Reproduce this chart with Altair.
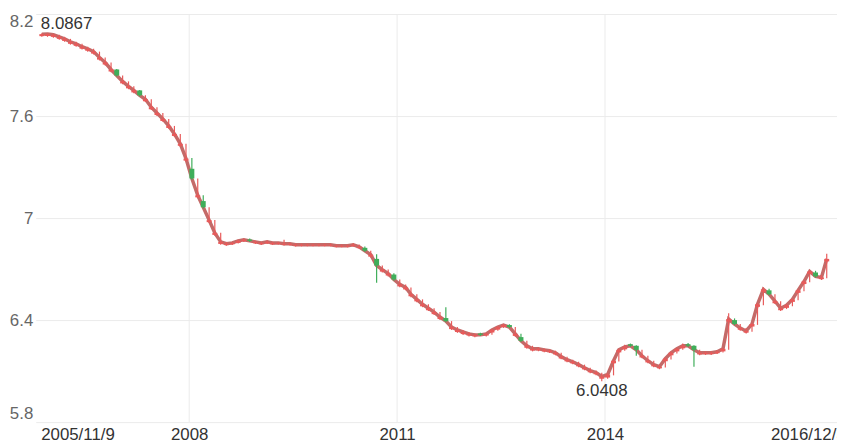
import altair as alt
import pandas as pd

# Monthly candles (USD/CNY, 2005/11 - 2017)
open_ = [8.070, 8.071, 8.066, 8.054, 8.042, 8.025, 8.013, 7.996, 7.984, 7.967,
         7.932, 7.903, 7.862, 7.874, 7.792, 7.763, 7.739, 7.751, 7.687, 7.640,
         7.606, 7.571, 7.530, 7.483, 7.425, 7.338, 7.290, 7.122, 7.100, 6.976,
         6.901, 6.848, 6.841, 6.846, 6.854, 6.864, 6.874, 6.852, 6.846, 6.852,
         6.846, 6.848, 6.843, 6.843, 6.837, 6.838, 6.838, 6.838, 6.838, 6.838,
         6.838, 6.832, 6.832, 6.832, 6.836, 6.823, 6.825, 6.773, 6.760, 6.685,
         6.662, 6.668, 6.598, 6.580, 6.540, 6.510, 6.481, 6.458, 6.435, 6.406,
         6.412, 6.347, 6.330, 6.318, 6.309, 6.304, 6.321, 6.309, 6.327, 6.344,
         6.359, 6.371, 6.307, 6.300, 6.237, 6.221, 6.222, 6.216, 6.211, 6.198,
         6.174, 6.157, 6.145, 6.128, 6.110, 6.093, 6.081, 6.055, 6.062, 6.146,
         6.210, 6.228, 6.258, 6.249, 6.180, 6.151, 6.128, 6.116, 6.158, 6.193,
         6.216, 6.234, 6.258, 6.249, 6.198, 6.200, 6.200, 6.205, 6.216, 6.391,
         6.400, 6.343, 6.326, 6.362, 6.478, 6.566, 6.575, 6.499, 6.458, 6.472,
         6.507, 6.560, 6.612, 6.671, 6.680, 6.641, 6.745]
close_ = [8.082, 8.083, 8.078, 8.066, 8.054, 8.037, 8.025, 8.008, 7.996, 7.979,
          7.944, 7.915, 7.874, 7.839, 7.804, 7.775, 7.751, 7.722, 7.699, 7.652,
          7.618, 7.583, 7.542, 7.495, 7.437, 7.350, 7.233, 7.134, 7.064, 6.988,
          6.913, 6.860, 6.849, 6.854, 6.866, 6.872, 6.866, 6.860, 6.854, 6.860,
          6.854, 6.854, 6.849, 6.849, 6.843, 6.843, 6.843, 6.843, 6.843, 6.843,
          6.843, 6.837, 6.837, 6.837, 6.843, 6.831, 6.808, 6.785, 6.721, 6.697,
          6.674, 6.639, 6.610, 6.592, 6.552, 6.522, 6.493, 6.470, 6.447, 6.418,
          6.394, 6.359, 6.342, 6.330, 6.319, 6.313, 6.313, 6.319, 6.342, 6.359,
          6.371, 6.359, 6.319, 6.278, 6.249, 6.231, 6.231, 6.225, 6.220, 6.208,
          6.185, 6.167, 6.155, 6.138, 6.120, 6.103, 6.091, 6.068, 6.080, 6.161,
          6.225, 6.243, 6.249, 6.225, 6.190, 6.161, 6.138, 6.126, 6.173, 6.208,
          6.231, 6.249, 6.249, 6.225, 6.208, 6.208, 6.208, 6.214, 6.231, 6.406,
          6.377, 6.353, 6.336, 6.377, 6.493, 6.581, 6.552, 6.511, 6.470, 6.487,
          6.522, 6.575, 6.627, 6.686, 6.657, 6.651, 6.760]
high_ = [8.0867, 8.086, 8.083, 8.078, 8.066, 8.054, 8.037, 8.025, 8.008, 7.996,
         7.979, 7.944, 7.915, 7.877, 7.839, 7.804, 7.775, 7.754, 7.722, 7.699,
         7.652, 7.618, 7.583, 7.542, 7.495, 7.437, 7.353, 7.233, 7.134, 7.064,
         6.988, 6.913, 6.860, 6.860, 6.872, 6.880, 6.880, 6.866, 6.860, 6.866,
         6.860, 6.860, 6.872, 6.854, 6.849, 6.848, 6.848, 6.848, 6.848, 6.848,
         6.848, 6.843, 6.843, 6.843, 6.852, 6.845, 6.833, 6.808, 6.787, 6.721,
         6.697, 6.676, 6.639, 6.610, 6.592, 6.552, 6.522, 6.493, 6.470, 6.447,
         6.476, 6.394, 6.359, 6.342, 6.330, 6.321, 6.325, 6.325, 6.348, 6.365,
         6.378, 6.376, 6.359, 6.319, 6.278, 6.249, 6.238, 6.233, 6.227, 6.220,
         6.208, 6.185, 6.167, 6.155, 6.138, 6.120, 6.103, 6.091, 6.088, 6.168,
         6.232, 6.255, 6.262, 6.252, 6.225, 6.190, 6.161, 6.138, 6.180, 6.215,
         6.238, 6.262, 6.265, 6.252, 6.225, 6.215, 6.215, 6.221, 6.238, 6.440,
         6.410, 6.377, 6.353, 6.384, 6.500, 6.592, 6.585, 6.552, 6.511, 6.494,
         6.529, 6.582, 6.634, 6.693, 6.690, 6.665, 6.790]
low_ = [8.066, 8.066, 8.061, 8.049, 8.037, 8.020, 8.008, 7.991, 7.979, 7.962,
        7.927, 7.898, 7.857, 7.832, 7.787, 7.758, 7.734, 7.715, 7.682, 7.635,
        7.601, 7.566, 7.525, 7.478, 7.420, 7.333, 7.226, 7.117, 7.057, 6.971,
        6.896, 6.843, 6.837, 6.842, 6.850, 6.860, 6.860, 6.848, 6.842, 6.848,
        6.842, 6.844, 6.839, 6.839, 6.833, 6.834, 6.834, 6.834, 6.834, 6.834,
        6.834, 6.828, 6.828, 6.828, 6.832, 6.819, 6.800, 6.768, 6.620, 6.680,
        6.657, 6.632, 6.593, 6.575, 6.535, 6.505, 6.476, 6.453, 6.430, 6.401,
        6.387, 6.342, 6.325, 6.313, 6.304, 6.299, 6.306, 6.304, 6.314, 6.337,
        6.354, 6.352, 6.302, 6.271, 6.232, 6.216, 6.217, 6.211, 6.206, 6.193,
        6.169, 6.152, 6.140, 6.123, 6.105, 6.088, 6.076, 6.0408, 6.055, 6.075,
        6.156, 6.220, 6.242, 6.190, 6.175, 6.146, 6.123, 6.111, 6.121, 6.168,
        6.203, 6.226, 6.242, 6.126, 6.193, 6.195, 6.195, 6.200, 6.209, 6.226,
        6.370, 6.338, 6.321, 6.331, 6.372, 6.488, 6.545, 6.494, 6.453, 6.465,
        6.482, 6.517, 6.570, 6.622, 6.650, 6.636, 6.646]

grid_dates = ["2008-01-01", "2011-01-01", "2014-01-01"]
y_ticks = [5.8, 6.4, 7.0, 7.6, 8.2]

dates = pd.date_range("2005-11-01", periods=len(close_), freq="MS") + pd.Timedelta(days=14)
df = pd.DataFrame({"date": dates, "open": open_, "close": close_,
                   "high": high_, "low": low_})
df_max = df.loc[[df["high"].idxmax()]]
df_min = df.loc[[df["low"].idxmin()]]

UP = "#e85a5a"
DOWN = "#3fae5a"
BAND = "#c46a68"
FONT = "Liberation Sans"

xscale = alt.Scale(domain=[alt.DateTime(year=2005, month=11, date=9),
                           alt.DateTime(year=2017, month=4, date=12)])
yscale = alt.Scale(domain=[5.8, 8.2], nice=False, zero=False)

xaxis = alt.Axis(
    values=[alt.DateTime(year=2005, month=11, date=9),
            alt.DateTime(year=2008, month=1, date=1),
            alt.DateTime(year=2011, month=1, date=1),
            alt.DateTime(year=2014, month=1, date=1),
            alt.DateTime(year=2016, month=12, date=30)],
    labelExpr="(month(datum.value) == 0 && date(datum.value) == 1) ? timeFormat(datum.value, '%Y') : timeFormat(datum.value, '%Y/%-m/%-d')",
    labelAlign=alt.condition("year(datum.value) < 2006", alt.value("left"), alt.value("center")),
    grid=False, domain=False, ticks=False, title=None,
    labelFontSize=17, labelFont=FONT, labelColor="#333333",
    labelPadding=5, labelFlush=False, labelOverlap=False,
)
yaxis = alt.Axis(
    values=y_ticks, format="~g", grid=True, gridColor="#ebebeb",
    domain=False, ticks=False, title=None,
    labelFontSize=17, labelFont=FONT, labelColor="#666666",
    labelPadding=3, labelFlush=True,
)

X = alt.X("date:T", scale=xscale, axis=xaxis)
color = alt.condition("datum.open <= datum.close", alt.value(UP), alt.value(DOWN))

vgrid = alt.Chart(pd.DataFrame({"date": pd.to_datetime(grid_dates)})).mark_rule(
    color="#ebebeb", strokeWidth=1
).encode(x=X)

band = alt.Chart(df).mark_line(color=BAND, strokeWidth=3.5, interpolate="linear").encode(
    x=X,
    y=alt.Y("close:Q", scale=yscale, axis=yaxis),
)
wick = alt.Chart(df).mark_rule(strokeWidth=1.2).encode(
    x=X,
    y=alt.Y("low:Q", scale=yscale, axis=yaxis),
    y2="high:Q",
    color=color,
)
body = alt.Chart(df).mark_bar(size=5).encode(
    x=X,
    y=alt.Y("open:Q", scale=yscale, axis=yaxis),
    y2="close:Q",
    color=color,
)
max_label = alt.Chart(df_max).mark_text(
    align="center", baseline="alphabetic", dx=25, dy=-4,
    fontSize=17, font=FONT, color="#333333"
).encode(x=X, y=alt.Y("high:Q", scale=yscale, axis=yaxis),
         text=alt.Text("high:Q", format=".4f"))
min_label = alt.Chart(df_min).mark_text(
    align="center", baseline="top", dy=2,
    fontSize=17, font=FONT, color="#333333"
).encode(x=X, y=alt.Y("low:Q", scale=yscale, axis=yaxis),
         text=alt.Text("low:Q", format=".4f"))

chart = alt.layer(vgrid, band, wick, body, max_label, min_label).properties(
    width=809, height=412,
    autosize=alt.AutoSizeParams(type="none"),
    padding={"left": 28, "top": 4, "right": 0, "bottom": 21},
    background="white",
).configure_view(stroke=None)

chart.save("out.html", embed_options={"renderer": "svg", "actions": False})
